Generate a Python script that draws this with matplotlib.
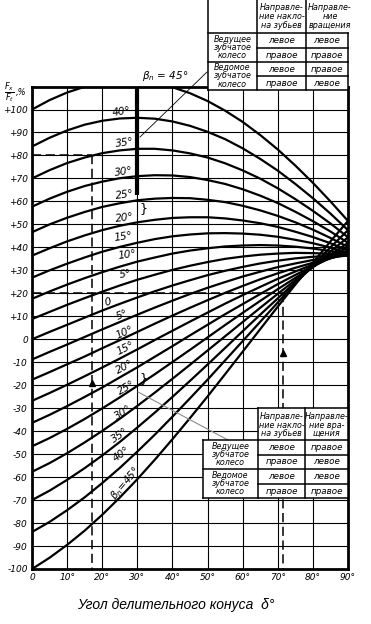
import matplotlib.pyplot as plt
from matplotlib.patches import Rectangle

plt.rcParams['font.family'] = ['DejaVu Sans']

# pitch cone angle, deg
delta = [0, 5, 10, 15, 20, 25, 30, 35, 40, 45, 50, 55, 60, 65, 70, 75, 80, 85, 90]

# Fx/Ft, % (upper family / lower family), beta_n = 0..45
beta_0 = [0, 3.2, 6.3, 9.4, 12.5, 15.4, 18.2, 20.9, 23.4, 25.7, 27.9, 29.8, 31.5, 33.0, 34.2, 35.2, 35.9, 36.3, 36.4]
up_5 = [8.8, 11.9, 15.0, 17.9, 20.7, 23.4, 25.9, 28.1, 30.2, 32.0, 33.6, 35.0, 36.0, 36.8, 37.3, 37.6, 37.5, 37.2, 36.5]
up_10 = [17.6, 20.8, 23.8, 26.6, 29.2, 31.6, 33.8, 35.6, 37.3, 38.6, 39.6, 40.4, 40.8, 41.0, 40.8, 40.3, 39.5, 38.4, 37.0]
up_15 = [26.8, 30.0, 32.9, 35.6, 38.1, 40.2, 42.0, 43.6, 44.8, 45.6, 46.1, 46.2, 46.0, 45.5, 44.6, 43.3, 41.8, 39.9, 37.7]
up_20 = [36.4, 39.6, 42.6, 45.2, 47.5, 49.4, 50.9, 52.0, 52.8, 53.1, 53.1, 52.6, 51.7, 50.5, 48.9, 46.8, 44.5, 41.8, 38.7]
up_25 = [46.6, 50.0, 52.9, 55.4, 57.6, 59.2, 60.5, 61.2, 61.5, 61.4, 60.7, 59.7, 58.1, 56.1, 53.7, 50.9, 47.7, 44.1, 40.2]
up_30 = [57.7, 61.2, 64.2, 66.7, 68.6, 70.1, 71.0, 71.4, 71.3, 70.6, 69.3, 67.6, 65.3, 62.5, 59.3, 55.5, 51.4, 46.9, 42.0]
up_35 = [70.0, 73.6, 76.7, 79.1, 81.0, 82.2, 82.9, 82.9, 82.2, 80.9, 79.1, 76.6, 73.5, 69.9, 65.7, 61.0, 55.9, 50.4, 44.4]
up_40 = [83.9, 87.7, 90.9, 93.4, 95.1, 96.1, 96.4, 96.0, 94.8, 92.9, 90.3, 87.1, 83.1, 78.5, 73.4, 67.6, 61.4, 54.7, 47.5]
up_45 = [100.0, 104.1, 107.4, 109.9, 111.6, 112.4, 112.3, 111.5, 109.7, 107.1, 103.7, 99.5, 94.6, 88.9, 82.6, 75.6, 68.1, 60.0, 51.5]
lo_5 = [-8.8, -5.5, -2.3, 1.0, 4.3, 7.5, 10.7, 13.8, 16.8, 19.7, 22.4, 24.9, 27.3, 29.4, 31.4, 33.0, 34.5, 35.6, 36.5]
lo_10 = [-17.6, -14.3, -10.9, -7.5, -3.9, -0.4, 3.2, 6.8, 10.3, 13.7, 17.0, 20.2, 23.2, 26.1, 28.7, 31.1, 33.3, 35.3, 37.0]
lo_15 = [-26.8, -23.4, -19.8, -16.1, -12.3, -8.4, -4.4, -0.3, 3.7, 7.7, 11.6, 15.5, 19.2, 22.8, 26.3, 29.5, 32.5, 35.2, 37.7]
lo_20 = [-36.4, -32.9, -29.1, -25.1, -21.0, -16.6, -12.2, -7.6, -3.0, 1.7, 6.3, 10.9, 15.3, 19.7, 24.0, 28.0, 31.8, 35.4, 38.7]
lo_25 = [-46.6, -43.0, -39.0, -34.7, -30.1, -25.3, -20.3, -15.2, -9.9, -4.6, 0.8, 6.2, 11.5, 16.7, 21.8, 26.7, 31.5, 35.9, 40.2]
lo_30 = [-57.7, -53.9, -49.6, -44.9, -39.9, -34.6, -29.0, -23.2, -17.2, -11.1, -4.9, 1.3, 7.5, 13.7, 19.8, 25.7, 31.4, 36.8, 42.0]
lo_35 = [-70.0, -65.9, -61.2, -56.1, -50.6, -44.7, -38.4, -31.9, -25.1, -18.1, -11.0, -3.8, 3.5, 10.7, 17.8, 24.8, 31.6, 38.2, 44.4]
lo_40 = [-83.9, -79.5, -74.4, -68.8, -62.6, -56.0, -48.9, -41.5, -33.7, -25.7, -17.6, -9.2, -0.8, 7.6, 16.0, 24.2, 32.2, 40.0, 47.5]
lo_45 = [-100.0, -95.1, -89.5, -83.3, -76.4, -68.9, -60.9, -52.4, -43.5, -34.3, -24.9, -15.2, -5.4, 4.4, 14.2, 23.8, 33.3, 42.6, 51.5]

upper = [up_5, up_10, up_15, up_20, up_25, up_30, up_35, up_40, up_45]
lower = [lo_5, lo_10, lo_15, lo_20, lo_25, lo_30, lo_35, lo_40, lo_45]

up_labels = ['5°', '10°', '15°', '20°', '25°', '30°', '35°', '40°']
lo_labels = ['0', '5°', '10°', '15°', '20°', '25°', '30°', '35°', '40°']

y_ticks = list(range(-100, 101, 10))
y_ticklabels = ['+%d' % v if v > 0 else '%d' % v for v in y_ticks]
x_ticks = list(range(0, 91, 10))
x_ticklabels = ['0'] + ['%d°' % v for v in x_ticks[1:]]

hdr_tilt = 'Направле-\nние накло-\nна зубьев'
hdr_rot_top = 'Направле-\nние\nвращения'
hdr_rot_bot = 'Направле-\nние вра-\nщения'
drive = 'Ведущее\nзубчатое\nколесо'
driven = 'Ведомое\nзубчатое\nколесо'
top_cells = [['левое', 'левое'], ['правое', 'правое'], ['левое', 'правое'], ['правое', 'левое']]
bot_cells = [['левое', 'правое'], ['правое', 'левое'], ['левое', 'левое'], ['правое', 'правое']]

W, H = 371, 624
fig = plt.figure(figsize=(W / 100, H / 100), dpi=100)
ax = fig.add_axes([32 / W, 1 - 569 / H, 316 / W, 482 / H])
ax.set_xlim(0, 90)
ax.set_ylim(-100, 109.8)

for v in x_ticks[1:]:
    ax.axvline(v, color='black', lw=0.8, zorder=1)
for v in y_ticks[1:]:
    ax.axhline(v, color='black', lw=0.8, zorder=1)

ax.plot(delta, beta_0, color='black', lw=1.6, zorder=3)
for ys in upper + lower:
    ax.plot(delta, ys, color='black', lw=1.6, zorder=3)

# worked examples
dash = (0, (6, 3))
ax.plot([0, 17], [80, 80], color='black', lw=1.1, ls=dash, zorder=2)
ax.plot([17, 17], [80, -100], color='black', lw=1.1, ls=dash, zorder=2)
ax.plot([0, 71.5], [20, 20], color='black', lw=1.1, ls=dash, zorder=2)
ax.plot([71.5, 71.5], [20, -100], color='black', lw=1.1, ls=dash, zorder=2)
ax.plot([17], [-19], marker='^', ms=4, color='black', zorder=4)
ax.plot([71.5], [-6], marker='^', ms=4, color='black', zorder=4)

# bar and braces at 30 deg
ax.plot([30, 30], [109.8, 63], color='black', lw=3, zorder=4, solid_capstyle='butt')
ax.text(30.6, 57, '}', fontsize=9, ha='left', va='center', zorder=4)
ax.text(30.6, -17, '}', fontsize=9, ha='left', va='center', zorder=4)

up_pos = [(26.5, 28.5), (27, 37), (26, 44.5), (26.5, 53), (26.5, 63), (26.2, 73), (26.5, 85.5), (25.6, 99)]
for (x, y), s in zip(up_pos, up_labels):
    ax.text(x, y, s, fontsize=7.5, style='italic', ha='center', va='center', rotation=8, zorder=5)
lo_pos = [(21.7, 16), (25.6, 10.4), (26.5, 3), (26.5, -4), (26.5, -12.2), (27, -21), (26, -32), (25, -42), (25.6, -49.8)]
lo_rot = [15, 22, 24, 26, 28, 30, 32, 34, 36]
for (x, y), s, r in zip(lo_pos, lo_labels, lo_rot):
    ax.text(x, y, s, fontsize=7.5, style='italic', ha='center', va='center', rotation=r, zorder=5)
ax.text(26.5, -62.5, r'$\beta_n$=45°', fontsize=7.5, style='italic', ha='center', va='center', rotation=50, zorder=5)
ax.text(38, 114.5, r'$\beta_n$ = 45°', fontsize=7.5, style='italic', ha='center', va='center', clip_on=False)

ax.set_yticks(y_ticks)
ax.set_yticklabels(y_ticklabels, fontsize=6.5, style='italic')
ax.set_xticks(x_ticks)
ax.set_xticklabels(x_ticklabels, fontsize=6.5, style='italic')
ax.tick_params(length=0, pad=3)
for sp in ax.spines.values():
    sp.set_linewidth(2)
    sp.set_zorder(6)

fig.text(9 / W, 1 - 93 / H, r'$\frac{F_x}{F_t}$', fontsize=8.5, ha='center', va='center')
fig.text(21 / W, 1 - 92 / H, ',%', fontsize=6, style='italic', ha='center', va='center')
fig.text(176 / W, 1 - 605 / H, 'Угол делительного конуса  δ°', fontsize=10,
         style='italic', family='Liberation Sans', ha='center', va='center')

# overlay in pixel coordinates for the tables and leader lines
ov = fig.add_axes([0, 0, 1, 1], zorder=10)
ov.set_xlim(0, W)
ov.set_ylim(H, 0)
ov.axis('off')
ov.patch.set_alpha(0)

ov.plot([140, 207], [137, 72], color='black', lw=0.6)
ov.plot([138, 228], [392, 440], color='0.55', lw=0.8)


def draw_table(x0, c1, c2, x1, rows, top, hdr1, hdr2, cells, close_hdr):
    ov.add_patch(Rectangle((x0 if close_hdr else c1, top), x1 - (x0 if close_hdr else c1),
                           rows[0] - top, fc='white', ec='none'))
    ov.add_patch(Rectangle((x0, rows[0]), x1 - x0, rows[-1] - rows[0], fc='white', ec='none'))
    lw = 1.1
    ov.plot([x0, x0], [top if close_hdr else rows[0], rows[-1]], color='black', lw=lw)
    ov.plot([c1, c1], [top, rows[-1]], color='black', lw=lw)
    ov.plot([c2, c2], [top, rows[-1]], color='black', lw=lw)
    ov.plot([x1, x1], [rows[0] if close_hdr else top, rows[-1]], color='black', lw=lw)
    if not close_hdr:
        ov.plot([c1, x1], [top, top], color='black', lw=lw)
    for i, y in enumerate(rows):
        xa = x0 if i % 2 == 0 else c1
        ov.plot([xa, x1], [y, y], color='black', lw=lw)
    ov.text((c1 + c2) / 2, (top + rows[0]) / 2 + 1, hdr1, fontsize=5.8, style='italic',
            ha='center', va='center', linespacing=0.95)
    ov.text((c2 + x1) / 2 + (3 if close_hdr else 0), (top + rows[0]) / 2 + 1, hdr2, fontsize=5.8,
            style='italic', ha='center', va='center', linespacing=0.95)
    ov.text((x0 + c1) / 2, (rows[0] + rows[2]) / 2, drive, fontsize=5.8, style='italic',
            ha='center', va='center', linespacing=0.9)
    ov.text((x0 + c1) / 2, (rows[2] + rows[4]) / 2, driven, fontsize=5.8, style='italic',
            ha='center', va='center', linespacing=0.9)
    for i, (a, b) in enumerate(cells):
        yc = (rows[i] + rows[i + 1]) / 2
        ov.text((c1 + c2) / 2, yc, a, fontsize=6.3, style='italic', ha='center', va='center')
        ov.text((c2 + x1) / 2, yc, b, fontsize=6.3, style='italic', ha='center', va='center')


draw_table(208, 257, 306, 348, [33, 48, 62, 76, 90], -2, hdr_tilt, hdr_rot_top, top_cells, True)
draw_table(203, 258, 305, 348, [440, 455, 469, 484, 498], 408, hdr_tilt, hdr_rot_bot, bot_cells, False)

fig.savefig('out.png', dpi=100)
